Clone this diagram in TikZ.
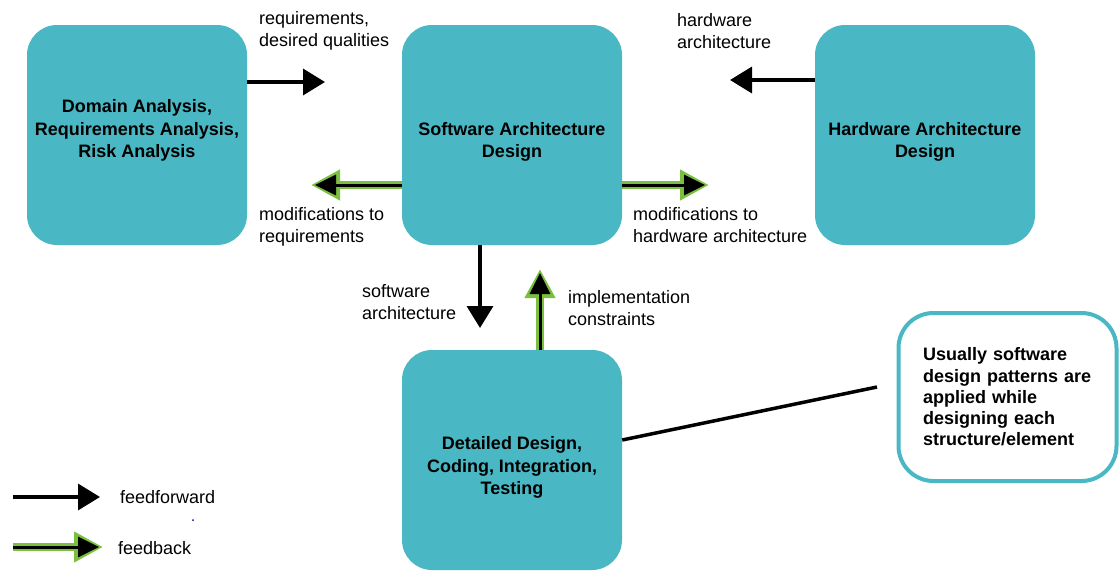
\documentclass[tikz,border=0pt]{standalone}
\usepackage{fontspec}
\setmainfont{Liberation Sans}
\usetikzlibrary{arrows.meta}
\definecolor{boxteal}{RGB}{74,184,196}
\definecolor{fbgreen}{RGB}{122,192,62}
\tikzset{
  phase/.style={fill=boxteal, rounded corners=30pt, minimum width=220pt, minimum height=220pt},
  phasetext/.style={align=center, inner sep=0pt, font=\bfseries\fontsize{18}{22.3}\selectfont},
  note/.style={draw=boxteal, line width=4pt, fill=white, rounded corners=35pt,
    minimum width=218pt, minimum height=168pt, align=left, text width=169pt, inner sep=0pt,
    font=\bfseries\fontsize{18}{21.3}\selectfont},
  lbl/.style={anchor=west, align=left, inner sep=0pt, font=\fontsize{18}{22}\selectfont},
  ffarrow/.style={line width=3.5pt, -{Triangle[length=22pt,width=26pt]}},
  fbarrow/.style={line width=3pt, -{Triangle[length=21pt,width=20pt]},
    preaction={draw=fbgreen, line width=8.5pt, line join=round, -{Triangle[length=29pt,width=29pt]}, shorten >=-4pt}}
}
\begin{document}
\begin{tikzpicture}[x=1pt,y=-1pt]
  \useasboundingbox (0,0) rectangle (1120,582);
  % phases
  \node[phase] (dom) at (137,135) {};
  \node[phase] (sw) at (512,135) {};
  \node[phase] (hw) at (925,135) {};
  \node[phase] (det) at (512,460) {};
  \node[phasetext] (domtxt) at (137,130.5) {Domain Analysis,\\Requirements Analysis,\\Risk Analysis};
  \node[phasetext] (swtxt) at (512,142) {Software Architecture\\Design};
  \node[phasetext] (hwtxt) at (925,142) {Hardware Architecture\\Design};
  \node[phasetext] (dettxt) at (512,467.5) {Detailed Design,\\Coding, Integration,\\Testing};
  \node[note] (tip) at (1007.5,397) {Usually software\\design patterns are\\applied while\\designing each\\structure/element};

  % arrow ends
  \coordinate (reqend) at (325,82);
  \coordinate (hwend) at (730,80);
  \coordinate (modreqend) at (315,185);
  \coordinate (modhwend) at (705,185);
  \coordinate (swend) at (480,328);
  \coordinate (implend) at (540,273);
  \coordinate (noteend) at (877,387);

  \draw[ffarrow] (dom.east |- reqend) -- (reqend);
  \draw[ffarrow] (hw.west |- hwend) -- (hwend);
  \draw[fbarrow] (sw.west |- modreqend) -- (modreqend);
  \draw[fbarrow] (sw.east |- modhwend) -- (modhwend);
  \draw[ffarrow] (sw.south -| swend) -- (swend);
  \draw[fbarrow] (det.north -| implend) -- (implend);
  \draw[line width=3.5pt] ([yshift=20pt]det.east) -- (noteend);

  % labels
  \node[lbl] (reqlbl) at (259,31) {requirements,\\desired qualities};
  \node[lbl] (hwlbl) at (677,31) {hardware\\architecture};
  \node[lbl] (modreqlbl) at (259,227) {modifications to\\requirements};
  \node[lbl] (modhwlbl) at (633,225) {modifications to\\hardware architecture};
  \node[lbl] (swlbl) at (362,302) {software\\architecture};
  \node[lbl] (impllbl) at (568,308) {implementation\\constraints};

  % legend
  \coordinate (ffstart) at (13,497);
  \coordinate (ffend) at (100,497);
  \coordinate (fbstart) at (13,547);
  \coordinate (fbend) at (99,547);
  \draw[ffarrow] (ffstart) -- (ffend);
  \draw[fbarrow] (fbstart) -- (fbend);
  \node[lbl] (fflbl) at (120,497) {feedforward};
  \node[lbl] (fblbl) at (118,548) {feedback};
  \fill[blue!60!black] (193,520) circle (1pt);
\end{tikzpicture}
\end{document}
